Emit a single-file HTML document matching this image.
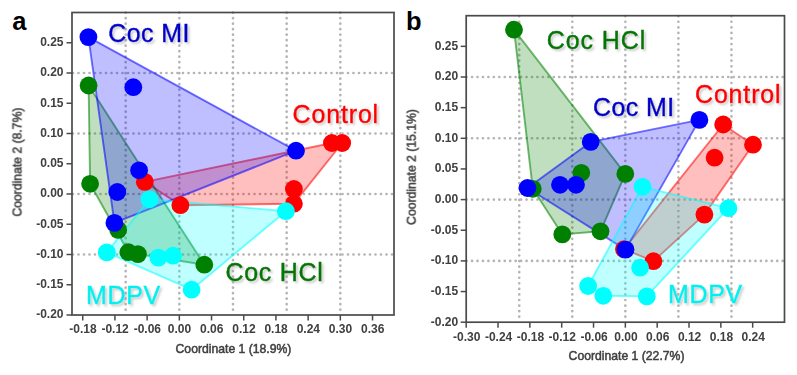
<!DOCTYPE html>
<html><head><meta charset="utf-8"><style>
html,body{margin:0;padding:0;background:#fff;width:797px;height:375px;overflow:hidden}
svg{display:block}
text{font-family:"Liberation Sans", sans-serif}
.tk{font-size:12px;font-weight:bold;fill:#404040;stroke:none}
.ti{font-size:12.2px;fill:#404040;stroke:#404040;stroke-width:0.5px}
.gl{font-size:25px}
.pl{font-size:25.5px;font-weight:bold;fill:#000}
</style></head><body>
<svg width="797" height="375" viewBox="0 0 797 375">
<defs><filter id="sh" x="-10%" y="-20%" width="130%" height="160%"><feGaussianBlur in="SourceAlpha" stdDeviation="0.8" result="b"/><feOffset in="b" dx="1.6" dy="1.6" result="o"/><feFlood flood-color="#909090" flood-opacity="0.45"/><feComposite in2="o" operator="in" result="s"/><feGaussianBlur in="SourceGraphic" stdDeviation="0.35" result="g"/><feMerge><feMergeNode in="s"/><feMergeNode in="g"/></feMerge></filter><filter id="bl" x="-5%" y="-5%" width="110%" height="110%"><feGaussianBlur stdDeviation="0.45"/></filter></defs>
<rect width="797" height="375" fill="#fff"/>
<line x1="125.67" y1="12.55" x2="125.67" y2="315.00" stroke="#b4b4b4" stroke-width="2.6" stroke-linecap="round" stroke-dasharray="0.1 5.400"/>
<line x1="179.33" y1="12.55" x2="179.33" y2="315.00" stroke="#b4b4b4" stroke-width="2.6" stroke-linecap="round" stroke-dasharray="0.1 5.400"/>
<line x1="233.00" y1="12.55" x2="233.00" y2="315.00" stroke="#b4b4b4" stroke-width="2.6" stroke-linecap="round" stroke-dasharray="0.1 5.400"/>
<line x1="286.67" y1="12.55" x2="286.67" y2="315.00" stroke="#b4b4b4" stroke-width="2.6" stroke-linecap="round" stroke-dasharray="0.1 5.400"/>
<line x1="340.33" y1="12.55" x2="340.33" y2="315.00" stroke="#b4b4b4" stroke-width="2.6" stroke-linecap="round" stroke-dasharray="0.1 5.400"/>
<line x1="72.95" y1="73.00" x2="394.00" y2="73.00" stroke="#b4b4b4" stroke-width="2.6" stroke-linecap="round" stroke-dasharray="0.1 5.400"/>
<line x1="72.95" y1="133.50" x2="394.00" y2="133.50" stroke="#b4b4b4" stroke-width="2.6" stroke-linecap="round" stroke-dasharray="0.1 5.400"/>
<line x1="72.95" y1="194.00" x2="394.00" y2="194.00" stroke="#b4b4b4" stroke-width="2.6" stroke-linecap="round" stroke-dasharray="0.1 5.400"/>
<line x1="72.95" y1="254.50" x2="394.00" y2="254.50" stroke="#b4b4b4" stroke-width="2.6" stroke-linecap="round" stroke-dasharray="0.1 5.400"/>
<polygon points="144.8,181.9 331.9,143.0 342.2,143.0 293.9,203.7 180.4,205.2" fill="#ff0000" fill-opacity="0.25" stroke="#ff0000" stroke-opacity="0.55" stroke-width="1.9" stroke-linejoin="round"/>
<polygon points="88.6,85.5 204.3,264.7 137.9,254.1 128.4,252.2 90.1,183.8" fill="#008000" fill-opacity="0.25" stroke="#008000" stroke-opacity="0.55" stroke-width="1.9" stroke-linejoin="round"/>
<polygon points="88.4,37.1 296.0,150.7 114.4,222.9" fill="#0000ff" fill-opacity="0.25" stroke="#0000ff" stroke-opacity="0.55" stroke-width="1.9" stroke-linejoin="round"/>
<polygon points="106.8,252.4 149.4,199.3 285.9,211.2 191.6,289.7" fill="#00ffff" fill-opacity="0.25" stroke="#00ffff" stroke-opacity="0.55" stroke-width="1.9" stroke-linejoin="round"/>
<circle cx="144.8" cy="181.9" r="8.9" fill="#ff0000"/>
<circle cx="180.4" cy="205.2" r="8.9" fill="#ff0000"/>
<circle cx="331.9" cy="143" r="8.9" fill="#ff0000"/>
<circle cx="342.2" cy="143" r="8.9" fill="#ff0000"/>
<circle cx="293.9" cy="189" r="8.9" fill="#ff0000"/>
<circle cx="293.9" cy="203.7" r="8.9" fill="#ff0000"/>
<circle cx="88.6" cy="85.5" r="8.9" fill="#008000"/>
<circle cx="90.1" cy="183.8" r="8.9" fill="#008000"/>
<circle cx="118.2" cy="229.9" r="8.9" fill="#008000"/>
<circle cx="128.4" cy="252.2" r="8.9" fill="#008000"/>
<circle cx="137.9" cy="254.1" r="8.9" fill="#008000"/>
<circle cx="204.3" cy="264.7" r="8.9" fill="#008000"/>
<circle cx="88.4" cy="37.1" r="8.9" fill="#0000ff"/>
<circle cx="133.3" cy="87.2" r="8.9" fill="#0000ff"/>
<circle cx="139.1" cy="170.3" r="8.9" fill="#0000ff"/>
<circle cx="117.3" cy="192" r="8.9" fill="#0000ff"/>
<circle cx="114.4" cy="222.9" r="8.9" fill="#0000ff"/>
<circle cx="296" cy="150.7" r="8.9" fill="#0000ff"/>
<circle cx="149.4" cy="199.3" r="8.9" fill="#00ffff"/>
<circle cx="106.8" cy="252.4" r="8.9" fill="#00ffff"/>
<circle cx="158.4" cy="257.6" r="8.9" fill="#00ffff"/>
<circle cx="173" cy="255.7" r="8.9" fill="#00ffff"/>
<circle cx="191.6" cy="289.7" r="8.9" fill="#00ffff"/>
<circle cx="285.9" cy="211.2" r="8.9" fill="#00ffff"/>
<rect x="72.0" y="12.5" width="322.00" height="302.50" fill="none" stroke="#4a4a4a" stroke-width="1.7"/>
<line x1="82.73" y1="315.0" x2="82.73" y2="320.5" stroke="#4a4a4a" stroke-width="1.5"/>
<text x="82.93" y="333.40" text-anchor="middle" class="tk" filter="url(#bl)">-0.18</text>
<line x1="114.93" y1="315.0" x2="114.93" y2="320.5" stroke="#4a4a4a" stroke-width="1.5"/>
<text x="115.13" y="333.40" text-anchor="middle" class="tk" filter="url(#bl)">-0.12</text>
<line x1="147.13" y1="315.0" x2="147.13" y2="320.5" stroke="#4a4a4a" stroke-width="1.5"/>
<text x="147.33" y="333.40" text-anchor="middle" class="tk" filter="url(#bl)">-0.06</text>
<line x1="179.33" y1="315.0" x2="179.33" y2="320.5" stroke="#4a4a4a" stroke-width="1.5"/>
<text x="179.53" y="333.40" text-anchor="middle" class="tk" filter="url(#bl)">0.00</text>
<line x1="211.53" y1="315.0" x2="211.53" y2="320.5" stroke="#4a4a4a" stroke-width="1.5"/>
<text x="211.73" y="333.40" text-anchor="middle" class="tk" filter="url(#bl)">0.06</text>
<line x1="243.73" y1="315.0" x2="243.73" y2="320.5" stroke="#4a4a4a" stroke-width="1.5"/>
<text x="243.93" y="333.40" text-anchor="middle" class="tk" filter="url(#bl)">0.12</text>
<line x1="275.93" y1="315.0" x2="275.93" y2="320.5" stroke="#4a4a4a" stroke-width="1.5"/>
<text x="276.13" y="333.40" text-anchor="middle" class="tk" filter="url(#bl)">0.18</text>
<line x1="308.13" y1="315.0" x2="308.13" y2="320.5" stroke="#4a4a4a" stroke-width="1.5"/>
<text x="308.33" y="333.40" text-anchor="middle" class="tk" filter="url(#bl)">0.24</text>
<line x1="340.33" y1="315.0" x2="340.33" y2="320.5" stroke="#4a4a4a" stroke-width="1.5"/>
<text x="340.53" y="333.40" text-anchor="middle" class="tk" filter="url(#bl)">0.30</text>
<line x1="372.53" y1="315.0" x2="372.53" y2="320.5" stroke="#4a4a4a" stroke-width="1.5"/>
<text x="372.73" y="333.40" text-anchor="middle" class="tk" filter="url(#bl)">0.36</text>
<line x1="66.5" y1="42.75" x2="72.0" y2="42.75" stroke="#4a4a4a" stroke-width="1.5"/>
<text x="63.50" y="46.05" text-anchor="end" class="tk" filter="url(#bl)">0.25</text>
<line x1="66.5" y1="73.00" x2="72.0" y2="73.00" stroke="#4a4a4a" stroke-width="1.5"/>
<text x="63.50" y="76.30" text-anchor="end" class="tk" filter="url(#bl)">0.20</text>
<line x1="66.5" y1="103.25" x2="72.0" y2="103.25" stroke="#4a4a4a" stroke-width="1.5"/>
<text x="63.50" y="106.55" text-anchor="end" class="tk" filter="url(#bl)">0.15</text>
<line x1="66.5" y1="133.50" x2="72.0" y2="133.50" stroke="#4a4a4a" stroke-width="1.5"/>
<text x="63.50" y="136.80" text-anchor="end" class="tk" filter="url(#bl)">0.10</text>
<line x1="66.5" y1="163.75" x2="72.0" y2="163.75" stroke="#4a4a4a" stroke-width="1.5"/>
<text x="63.50" y="167.05" text-anchor="end" class="tk" filter="url(#bl)">0.05</text>
<line x1="66.5" y1="194.00" x2="72.0" y2="194.00" stroke="#4a4a4a" stroke-width="1.5"/>
<text x="63.50" y="197.30" text-anchor="end" class="tk" filter="url(#bl)">0.00</text>
<line x1="66.5" y1="224.25" x2="72.0" y2="224.25" stroke="#4a4a4a" stroke-width="1.5"/>
<text x="63.50" y="227.55" text-anchor="end" class="tk" filter="url(#bl)">-0.05</text>
<line x1="66.5" y1="254.50" x2="72.0" y2="254.50" stroke="#4a4a4a" stroke-width="1.5"/>
<text x="63.50" y="257.80" text-anchor="end" class="tk" filter="url(#bl)">-0.10</text>
<line x1="66.5" y1="284.75" x2="72.0" y2="284.75" stroke="#4a4a4a" stroke-width="1.5"/>
<text x="63.50" y="288.05" text-anchor="end" class="tk" filter="url(#bl)">-0.15</text>
<line x1="66.5" y1="315.00" x2="72.0" y2="315.00" stroke="#4a4a4a" stroke-width="1.5"/>
<text x="63.50" y="318.30" text-anchor="end" class="tk" filter="url(#bl)">-0.20</text>
<text x="233.50" y="352.5" text-anchor="middle" class="ti" filter="url(#bl)">Coordinate 1 (18.9%)</text>
<text transform="translate(21.50,162.15) rotate(-90)" text-anchor="middle" class="ti" filter="url(#bl)">Coordinate 2 (8.7%)</text>
<text x="108.20" y="42.10" class="gl" fill="#0000c8" stroke="#0000c8" stroke-width="0.45" style="letter-spacing:0.44px" filter="url(#sh)">Coc MI</text>
<text x="292.60" y="123.40" class="gl" fill="#ff0000" stroke="#ff0000" stroke-width="0.45" style="letter-spacing:0.83px" filter="url(#sh)">Control</text>
<text x="225.40" y="280.70" class="gl" fill="#007800" stroke="#007800" stroke-width="0.45" style="letter-spacing:0.73px" filter="url(#sh)">Coc HCl</text>
<text x="86.00" y="303.60" class="gl" fill="#00f0f0" stroke="#00f0f0" stroke-width="0.45" style="letter-spacing:0.65px" filter="url(#sh)">MDPV</text>
<text x="12.3" y="29.8" class="pl">a</text>
<line x1="519.25" y1="16.15" x2="519.25" y2="322.20" stroke="#b4b4b4" stroke-width="2.6" stroke-linecap="round" stroke-dasharray="0.1 5.465"/>
<line x1="572.30" y1="16.15" x2="572.30" y2="322.20" stroke="#b4b4b4" stroke-width="2.6" stroke-linecap="round" stroke-dasharray="0.1 5.465"/>
<line x1="625.35" y1="16.15" x2="625.35" y2="322.20" stroke="#b4b4b4" stroke-width="2.6" stroke-linecap="round" stroke-dasharray="0.1 5.465"/>
<line x1="678.40" y1="16.15" x2="678.40" y2="322.20" stroke="#b4b4b4" stroke-width="2.6" stroke-linecap="round" stroke-dasharray="0.1 5.465"/>
<line x1="731.45" y1="16.15" x2="731.45" y2="322.20" stroke="#b4b4b4" stroke-width="2.6" stroke-linecap="round" stroke-dasharray="0.1 5.465"/>
<line x1="466.55" y1="77.00" x2="784.50" y2="77.00" stroke="#b4b4b4" stroke-width="2.6" stroke-linecap="round" stroke-dasharray="0.1 5.350"/>
<line x1="466.55" y1="138.30" x2="784.50" y2="138.30" stroke="#b4b4b4" stroke-width="2.6" stroke-linecap="round" stroke-dasharray="0.1 5.350"/>
<line x1="466.55" y1="199.60" x2="784.50" y2="199.60" stroke="#b4b4b4" stroke-width="2.6" stroke-linecap="round" stroke-dasharray="0.1 5.350"/>
<line x1="466.55" y1="260.90" x2="784.50" y2="260.90" stroke="#b4b4b4" stroke-width="2.6" stroke-linecap="round" stroke-dasharray="0.1 5.350"/>
<polygon points="624.0,249.2 723.2,124.5 753.0,144.7 704.4,214.6 653.4,261.2" fill="#ff0000" fill-opacity="0.25" stroke="#ff0000" stroke-opacity="0.55" stroke-width="1.9" stroke-linejoin="round"/>
<polygon points="514.0,29.7 625.3,173.9 600.5,231.3 562.3,234.4 532.8,188.8" fill="#008000" fill-opacity="0.25" stroke="#008000" stroke-opacity="0.55" stroke-width="1.9" stroke-linejoin="round"/>
<polygon points="527.5,188.0 590.7,141.9 699.4,119.9 625.5,249.6" fill="#0000ff" fill-opacity="0.25" stroke="#0000ff" stroke-opacity="0.55" stroke-width="1.9" stroke-linejoin="round"/>
<polygon points="588.1,286.0 642.5,186.8 728.4,208.2 646.8,296.4 603.3,295.8" fill="#00ffff" fill-opacity="0.25" stroke="#00ffff" stroke-opacity="0.55" stroke-width="1.9" stroke-linejoin="round"/>
<circle cx="723.2" cy="124.5" r="8.9" fill="#ff0000"/>
<circle cx="753" cy="144.7" r="8.9" fill="#ff0000"/>
<circle cx="714.6" cy="157.7" r="8.9" fill="#ff0000"/>
<circle cx="704.4" cy="214.6" r="8.9" fill="#ff0000"/>
<circle cx="653.4" cy="261.2" r="8.9" fill="#ff0000"/>
<circle cx="624" cy="249.2" r="8.9" fill="#ff0000"/>
<circle cx="514" cy="29.7" r="8.9" fill="#008000"/>
<circle cx="581.3" cy="172.8" r="8.9" fill="#008000"/>
<circle cx="625.3" cy="173.9" r="8.9" fill="#008000"/>
<circle cx="532.8" cy="188.8" r="8.9" fill="#008000"/>
<circle cx="562.3" cy="234.4" r="8.9" fill="#008000"/>
<circle cx="600.5" cy="231.3" r="8.9" fill="#008000"/>
<circle cx="699.4" cy="119.9" r="8.9" fill="#0000ff"/>
<circle cx="590.7" cy="141.9" r="8.9" fill="#0000ff"/>
<circle cx="527.5" cy="188" r="8.9" fill="#0000ff"/>
<circle cx="560" cy="184.8" r="8.9" fill="#0000ff"/>
<circle cx="576" cy="184.8" r="8.9" fill="#0000ff"/>
<circle cx="625.5" cy="249.6" r="8.9" fill="#0000ff"/>
<circle cx="642.5" cy="186.8" r="8.9" fill="#00ffff"/>
<circle cx="728.4" cy="208.2" r="8.9" fill="#00ffff"/>
<circle cx="640.1" cy="267.7" r="8.9" fill="#00ffff"/>
<circle cx="588.1" cy="286" r="8.9" fill="#00ffff"/>
<circle cx="603.3" cy="295.8" r="8.9" fill="#00ffff"/>
<circle cx="646.8" cy="296.4" r="8.9" fill="#00ffff"/>
<rect x="466.2" y="15.7" width="318.30" height="306.50" fill="none" stroke="#4a4a4a" stroke-width="1.7"/>
<line x1="466.20" y1="322.2" x2="466.20" y2="327.7" stroke="#4a4a4a" stroke-width="1.5"/>
<text x="466.80" y="341.30" text-anchor="middle" class="tk" filter="url(#bl)">-0.30</text>
<line x1="498.03" y1="322.2" x2="498.03" y2="327.7" stroke="#4a4a4a" stroke-width="1.5"/>
<text x="498.63" y="341.30" text-anchor="middle" class="tk" filter="url(#bl)">-0.24</text>
<line x1="529.86" y1="322.2" x2="529.86" y2="327.7" stroke="#4a4a4a" stroke-width="1.5"/>
<text x="530.46" y="341.30" text-anchor="middle" class="tk" filter="url(#bl)">-0.18</text>
<line x1="561.69" y1="322.2" x2="561.69" y2="327.7" stroke="#4a4a4a" stroke-width="1.5"/>
<text x="562.29" y="341.30" text-anchor="middle" class="tk" filter="url(#bl)">-0.12</text>
<line x1="593.52" y1="322.2" x2="593.52" y2="327.7" stroke="#4a4a4a" stroke-width="1.5"/>
<text x="594.12" y="341.30" text-anchor="middle" class="tk" filter="url(#bl)">-0.06</text>
<line x1="625.35" y1="322.2" x2="625.35" y2="327.7" stroke="#4a4a4a" stroke-width="1.5"/>
<text x="625.95" y="341.30" text-anchor="middle" class="tk" filter="url(#bl)">0.00</text>
<line x1="657.18" y1="322.2" x2="657.18" y2="327.7" stroke="#4a4a4a" stroke-width="1.5"/>
<text x="657.78" y="341.30" text-anchor="middle" class="tk" filter="url(#bl)">0.06</text>
<line x1="689.01" y1="322.2" x2="689.01" y2="327.7" stroke="#4a4a4a" stroke-width="1.5"/>
<text x="689.61" y="341.30" text-anchor="middle" class="tk" filter="url(#bl)">0.12</text>
<line x1="720.84" y1="322.2" x2="720.84" y2="327.7" stroke="#4a4a4a" stroke-width="1.5"/>
<text x="721.44" y="341.30" text-anchor="middle" class="tk" filter="url(#bl)">0.18</text>
<line x1="752.67" y1="322.2" x2="752.67" y2="327.7" stroke="#4a4a4a" stroke-width="1.5"/>
<text x="753.27" y="341.30" text-anchor="middle" class="tk" filter="url(#bl)">0.24</text>
<line x1="460.7" y1="46.35" x2="466.2" y2="46.35" stroke="#4a4a4a" stroke-width="1.5"/>
<text x="458.10" y="49.65" text-anchor="end" class="tk" filter="url(#bl)">0.25</text>
<line x1="460.7" y1="77.00" x2="466.2" y2="77.00" stroke="#4a4a4a" stroke-width="1.5"/>
<text x="458.10" y="80.30" text-anchor="end" class="tk" filter="url(#bl)">0.20</text>
<line x1="460.7" y1="107.65" x2="466.2" y2="107.65" stroke="#4a4a4a" stroke-width="1.5"/>
<text x="458.10" y="110.95" text-anchor="end" class="tk" filter="url(#bl)">0.15</text>
<line x1="460.7" y1="138.30" x2="466.2" y2="138.30" stroke="#4a4a4a" stroke-width="1.5"/>
<text x="458.10" y="141.60" text-anchor="end" class="tk" filter="url(#bl)">0.10</text>
<line x1="460.7" y1="168.95" x2="466.2" y2="168.95" stroke="#4a4a4a" stroke-width="1.5"/>
<text x="458.10" y="172.25" text-anchor="end" class="tk" filter="url(#bl)">0.05</text>
<line x1="460.7" y1="199.60" x2="466.2" y2="199.60" stroke="#4a4a4a" stroke-width="1.5"/>
<text x="458.10" y="202.90" text-anchor="end" class="tk" filter="url(#bl)">0.00</text>
<line x1="460.7" y1="230.25" x2="466.2" y2="230.25" stroke="#4a4a4a" stroke-width="1.5"/>
<text x="458.10" y="233.55" text-anchor="end" class="tk" filter="url(#bl)">-0.05</text>
<line x1="460.7" y1="260.90" x2="466.2" y2="260.90" stroke="#4a4a4a" stroke-width="1.5"/>
<text x="458.10" y="264.20" text-anchor="end" class="tk" filter="url(#bl)">-0.10</text>
<line x1="460.7" y1="291.55" x2="466.2" y2="291.55" stroke="#4a4a4a" stroke-width="1.5"/>
<text x="458.10" y="294.85" text-anchor="end" class="tk" filter="url(#bl)">-0.15</text>
<line x1="460.7" y1="322.20" x2="466.2" y2="322.20" stroke="#4a4a4a" stroke-width="1.5"/>
<text x="458.10" y="325.50" text-anchor="end" class="tk" filter="url(#bl)">-0.20</text>
<text x="626.55" y="359.7" text-anchor="middle" class="ti" filter="url(#bl)">Coordinate 1 (22.7%)</text>
<text transform="translate(415.70,166.95) rotate(-90)" text-anchor="middle" class="ti" filter="url(#bl)">Coordinate 2 (15.1%)</text>
<text x="546.70" y="49.10" class="gl" fill="#007800" stroke="#007800" stroke-width="0.45" style="letter-spacing:0.93px" filter="url(#sh)">Coc HCl</text>
<text x="592.90" y="116.10" class="gl" fill="#0000c8" stroke="#0000c8" stroke-width="0.45" style="letter-spacing:0.44px" filter="url(#sh)">Coc MI</text>
<text x="695.00" y="103.40" class="gl" fill="#ff0000" stroke="#ff0000" stroke-width="0.45" style="letter-spacing:0.83px" filter="url(#sh)">Control</text>
<text x="668.10" y="302.70" class="gl" fill="#00f0f0" stroke="#00f0f0" stroke-width="0.45" style="letter-spacing:0.65px" filter="url(#sh)">MDPV</text>
<text x="405.9" y="30.0" class="pl">b</text>
</svg>
</body></html>
